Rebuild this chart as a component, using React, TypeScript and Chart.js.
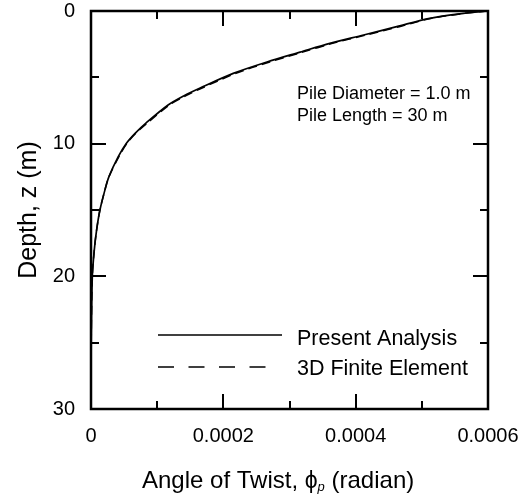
import React, { useEffect, useRef } from "react";
import { Chart, registerables } from "chart.js";

Chart.register(...registerables);

// Depth z (m) and angle of twist (radian)
const depthPresent = [0, 0.18, 0.55, 1.18, 1.81, 2.44, 3.1, 3.84, 4.7, 5.8, 6.4, 7.1, 8.45, 9.2, 10, 11, 12.5, 13.5, 15, 16.5, 18, 20, 25, 30];
const twistPresent = [0.0006, 0.000563, 0.000512, 0.000462, 0.000412, 0.000361, 0.000316, 0.000266, 0.000215, 0.000165, 0.00014, 0.000116, 0.000083, 0.000067, 0.000053, 0.000041, 0.000027, 0.000021, 0.0000135, 0.0000085, 0.000005, 0.000002, 0.0000003, 0];

const depthFE = [0, 0.18, 0.55, 1.18, 1.81, 2.44, 3.1, 3.84, 4.7, 5.8, 6.4, 7.1, 8.45, 9.2, 10, 11, 12.5, 13.5, 15, 16.5, 18, 20, 25, 30];
const twistFE = [0.0006, 0.000565, 0.000515, 0.000466, 0.000416, 0.000365, 0.00032, 0.00027, 0.000219, 0.000168, 0.000143, 0.000118, 0.000085, 0.000068, 0.000054, 0.000042, 0.000027, 0.000021, 0.0000135, 0.0000085, 0.000005, 0.000002, 0.0000003, 0];

const seriesNames = ["Present Analysis", "3D Finite Element"];

const xTicks = [0, 0.0002, 0.0004, 0.0006];
const xTickLabels = ["0", "0.0002", "0.0004", "0.0006"];
const xMinorTicks = [0.0001, 0.0003, 0.0005];
const yTicks = [0, 10, 20, 30];
const yTickLabels = ["0", "10", "20", "30"];
const yMinorTicks = [5, 15, 25];

const annotationLines = ["Pile Diameter = 1.0 m", "Pile Length = 30 m"];
const yTitle = "Depth, z (m)";
const xTitleMain = "Angle of Twist, ";
const xTitlePhi = "\u03D5";
const xTitleSub = "p";
const xTitleTail = " (radian)";

const FONT = "Arial, 'Liberation Sans', Helvetica, sans-serif";

const decorPlugin = {
  id: "decor",
  afterDraw(chart: any) {
    const ctx = chart.ctx as CanvasRenderingContext2D;
    const { left, right, top, bottom } = chart.chartArea;
    const xs = chart.scales.x;
    const ys = chart.scales.y;
    ctx.save();
    ctx.strokeStyle = "#000";
    ctx.fillStyle = "#000";

    // ticks (inside, mirrored)
    ctx.lineWidth = 2;
    const major = 15;
    const minor = 8;
    const xTick = (v: number, len: number) => {
      const px = Math.round(xs.getPixelForValue(v));
      ctx.beginPath();
      ctx.moveTo(px, bottom);
      ctx.lineTo(px, bottom - len);
      ctx.moveTo(px, top);
      ctx.lineTo(px, top + len);
      ctx.stroke();
    };
    const yTick = (v: number, len: number) => {
      const py = Math.round(ys.getPixelForValue(v));
      ctx.beginPath();
      ctx.moveTo(left, py);
      ctx.lineTo(left + len, py);
      ctx.moveTo(right, py);
      ctx.lineTo(right - len, py);
      ctx.stroke();
    };
    xTicks.forEach((v) => xTick(v, major));
    xMinorTicks.forEach((v) => xTick(v, minor));
    yTicks.forEach((v) => yTick(v, major));
    yMinorTicks.forEach((v) => yTick(v, minor));

    // frame
    ctx.lineWidth = 2.5;
    ctx.strokeRect(left, top, right - left, bottom - top);

    // annotation
    ctx.font = `18px ${FONT}`;
    ctx.textAlign = "left";
    ctx.textBaseline = "alphabetic";
    ctx.fillText(annotationLines[0], 297, 99);
    ctx.fillText(annotationLines[1], 297, 121);

    // legend
    ctx.lineWidth = 1.5;
    ctx.beginPath();
    ctx.moveTo(158, 335);
    ctx.lineTo(282, 335);
    ctx.stroke();
    ctx.setLineDash([16, 14.5]);
    ctx.beginPath();
    ctx.moveTo(158, 367);
    ctx.lineTo(268, 367);
    ctx.stroke();
    ctx.setLineDash([]);
    ctx.font = `21.5px ${FONT}`;
    ctx.fillText(seriesNames[0], 297, 345);
    ctx.fillText(seriesNames[1], 297, 375);

    // x title
    let x = 142;
    const base = 488;
    ctx.font = `24px ${FONT}`;
    ctx.fillText(xTitleMain, x, base);
    x += ctx.measureText(xTitleMain).width;
    ctx.font = `23px ${FONT}`;
    ctx.fillText(xTitlePhi, x, base);
    x += ctx.measureText(xTitlePhi).width;
    ctx.font = `italic 13px ${FONT}`;
    ctx.fillText(xTitleSub, x, base + 3);
    x += ctx.measureText(xTitleSub).width;
    ctx.font = `24px ${FONT}`;
    ctx.fillText(xTitleTail, x, base);

    // y title
    ctx.save();
    ctx.translate(36, (top + bottom) / 2);
    ctx.rotate(-Math.PI / 2);
    ctx.textAlign = "center";
    ctx.font = `25px ${FONT}`;
    ctx.fillText(yTitle, 0, 0);
    ctx.restore();

    ctx.restore();
  },
};

export default function App() {
  const ref = useRef<HTMLCanvasElement | null>(null);
  useEffect(() => {
    if (!ref.current) return;
    const chart = new Chart(ref.current, {
      type: "scatter",
      data: {
        datasets: [
          {
            label: seriesNames[0],
            data: depthPresent.map((d, i) => ({ x: twistPresent[i], y: d })),
            showLine: true,
            borderColor: "#000",
            borderWidth: 1.7,
            pointRadius: 0,
            tension: 0.3,
            fill: false,
          },
          {
            label: seriesNames[1],
            data: depthFE.map((d, i) => ({ x: twistFE[i], y: d })),
            showLine: true,
            borderColor: "#000",
            borderWidth: 1.5,
            borderDash: [9, 5],
            pointRadius: 0,
            tension: 0.3,
            fill: false,
          },
        ],
      },
      options: {
        responsive: false,
        animation: false,
        devicePixelRatio: 1,
        layout: { autoPadding: false, padding: { left: 0, top: 11, right: 37, bottom: 0 } },
        plugins: { legend: { display: false }, tooltip: { enabled: false } },
        scales: {
          x: {
            type: "linear",
            min: 0,
            max: 0.0006,
            grid: { display: false, drawTicks: false },
            border: { display: false },
            afterBuildTicks: (s: any) => {
              s.ticks = xTicks.map((v) => ({ value: v }));
            },
            afterFit: (s: any) => {
              s.height = 89;
              s.paddingLeft = 0;
              s.paddingRight = 0;
              s.paddingTop = 0;
              s.paddingBottom = 0;
            },
            ticks: {
              color: "#000",
              padding: 17,
              maxRotation: 0,
              autoSkip: false,
              font: { family: FONT, size: 20, lineHeight: 1 },
              callback: (_v: any, i: number) => xTickLabels[i],
            },
          },
          y: {
            type: "linear",
            min: 0,
            max: 30,
            reverse: true,
            grid: { display: false, drawTicks: false },
            border: { display: false },
            afterBuildTicks: (s: any) => {
              s.ticks = yTicks.map((v) => ({ value: v }));
            },
            afterFit: (s: any) => {
              s.width = 91;
              s.paddingLeft = 0;
              s.paddingRight = 0;
              s.paddingTop = 0;
              s.paddingBottom = 0;
            },
            ticks: {
              color: "#000",
              padding: 16,
              autoSkip: false,
              font: { family: FONT, size: 20, lineHeight: 1 },
              callback: (_v: any, i: number) => yTickLabels[i],
            },
          },
        },
      },
      plugins: [decorPlugin],
    } as any);
    return () => chart.destroy();
  }, []);
  return (
    <div style={{ position: "absolute", left: 0, top: 0, width: 525, height: 498, background: "#fff" }}>
      <canvas ref={ref} width={525} height={498} />
    </div>
  );
}
